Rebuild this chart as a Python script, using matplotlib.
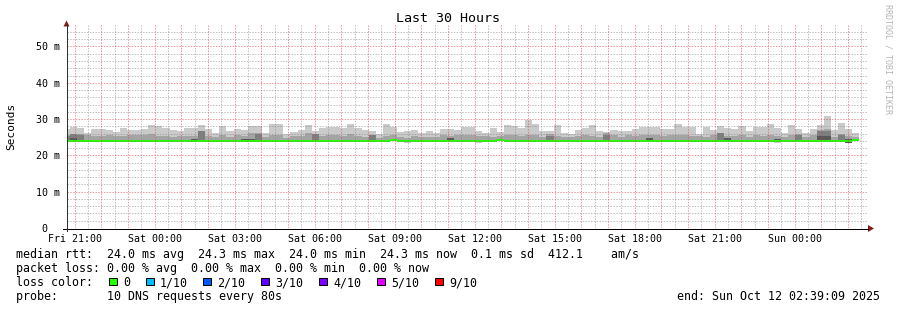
import numpy as np
import matplotlib
matplotlib.use("Agg")
import matplotlib.pyplot as plt
from matplotlib.patches import Rectangle, Polygon
from matplotlib.lines import Line2D

# ---------------- data ----------------
# time in hours since Fri 00:00
first_bin_start_h = 20 + 33.5 / 60     # first 16-minute consolidation bin
bin_minutes = 16
axis_start_h = 20 + 42.7 / 60
span_h = 30

median = [
    24.0, 24.0, 24.0, 24.0, 24.0, 24.0, 24.0, 24.0, 24.0, 24.0,
    24.0, 24.0, 24.0, 24.0, 24.0, 24.0, 24.0, 24.0, 24.0, 24.0,
    24.0, 24.0, 24.0, 24.0, 24.0, 24.0, 24.0, 24.0, 24.0, 24.0,
    24.0, 24.0, 24.0, 24.0, 24.0, 24.0, 24.0, 24.0, 24.0, 24.0,
    24.0, 24.0, 24.0, 24.0, 24.0, 24.0, 24.3, 24.0, 24.0, 24.0,
    24.0, 24.0, 24.0, 24.0, 24.0, 24.0, 24.0, 24.0, 24.0, 24.0,
    24.0, 24.3, 24.0, 24.0, 24.0, 24.0, 24.0, 24.0, 24.0, 24.0,
    24.0, 24.0, 24.0, 24.0, 24.0, 24.0, 24.0, 24.0, 24.0, 24.0,
    24.0, 24.0, 24.0, 24.0, 24.0, 24.0, 24.0, 24.0, 24.0, 24.0,
    24.0, 24.0, 24.0, 24.0, 24.0, 24.0, 24.0, 24.0, 24.0, 24.0,
    24.0, 24.0, 24.0, 24.0, 24.0, 24.0, 24.0, 24.0, 24.0, 24.0,
    24.0, 24.3,
]

ping_max = [
    27.3, 27.8, 27.5, 26.2, 27.3, 27.3, 27.1, 26.4, 27.5, 27.0,
    27.0, 27.3, 28.3, 28.1, 27.5, 27.1, 26.6, 27.5, 27.5, 28.4,
    27.3, 26.2, 28.1, 26.7, 27.3, 27.0, 28.0, 28.0, 26.2, 28.6,
    28.6, 26.0, 26.4, 27.0, 28.3, 26.8, 27.5, 27.8, 27.8, 27.5,
    28.6, 27.5, 27.0, 26.6, 26.0, 28.6, 27.9, 26.4, 26.6, 27.0,
    26.2, 26.7, 26.2, 27.3, 27.4, 27.1, 27.8, 27.8, 26.8, 26.2,
    27.5, 26.4, 28.4, 28.1, 27.5, 29.8, 28.6, 26.6, 26.6, 28.4,
    26.2, 26.0, 27.0, 27.5, 28.4, 26.6, 26.4, 27.0, 26.7, 26.6,
    27.3, 27.9, 27.9, 27.9, 27.3, 27.3, 28.6, 27.8, 27.8, 25.8,
    27.8, 27.0, 28.0, 27.5, 27.3, 28.0, 26.8, 27.8, 27.8, 28.6,
    27.5, 26.1, 28.4, 27.3, 26.2, 27.3, 28.4, 30.8, 27.0, 28.9,
    27.3, 26.2,
]

ping_9 = [
    25.7, 25.7, 25.9, 25.5, 25.3, 25.3, 25.5, 25.3, 25.3, 25.7,
    25.7, 25.7, 25.9, 25.3, 25.3, 25.0, 25.3, 25.3, 25.3, 26.8,
    25.3, 25.0, 25.5, 25.0, 25.5, 25.3, 26.2, 26.2, 25.0, 25.5,
    25.5, 24.9, 25.3, 25.3, 26.1, 26.0, 25.3, 25.7, 25.7, 25.3,
    25.9, 25.3, 25.0, 25.5, 24.9, 25.3, 25.5, 25.0, 24.8, 25.3,
    25.0, 25.2, 25.0, 25.5, 25.3, 25.5, 25.5, 25.7, 25.3, 25.3,
    25.0, 25.3, 25.5, 25.7, 25.3, 25.7, 25.5, 25.0, 25.9, 25.3,
    25.0, 25.0, 25.3, 25.5, 25.3, 25.0, 26.3, 25.7, 25.0, 25.5,
    25.3, 25.7, 25.5, 25.5, 25.3, 25.5, 25.7, 25.7, 25.3, 25.3,
    25.0, 25.7, 25.7, 25.3, 25.3, 25.7, 25.0, 25.5, 25.3, 25.7,
    25.3, 25.0, 25.7, 25.9, 25.0, 25.5, 27.0, 27.2, 25.0, 25.9,
    25.3, 25.0,
]

ping_8 = [
    25.3, 25.9, 25.7, 24.2, 24.2, 24.2, 24.2, 24.2, 24.2, 24.2,
    24.2, 24.2, 24.2, 24.2, 24.2, 24.2, 24.2, 24.2, 24.2, 26.6,
    24.2, 24.2, 24.2, 24.2, 24.2, 24.2, 24.2, 25.9, 24.2, 24.2,
    24.2, 24.2, 24.2, 24.2, 24.2, 25.9, 24.2, 24.2, 24.2, 24.2,
    24.2, 24.2, 24.2, 25.5, 24.2, 24.2, 24.2, 24.2, 24.2, 24.2,
    24.2, 24.2, 24.2, 24.2, 24.2, 24.2, 24.2, 24.2, 24.2, 24.2,
    24.2, 24.2, 24.2, 24.2, 24.2, 24.2, 24.2, 24.2, 25.3, 24.2,
    24.2, 24.2, 24.2, 24.2, 24.2, 24.2, 25.5, 24.2, 24.2, 24.2,
    24.2, 24.2, 24.2, 24.2, 24.2, 24.2, 24.2, 24.2, 24.2, 24.2,
    24.2, 24.2, 26.2, 24.2, 24.2, 24.2, 24.2, 24.2, 24.2, 24.2,
    24.2, 24.2, 24.2, 25.6, 24.2, 24.2, 26.6, 26.6, 24.2, 25.5,
    24.2, 24.2,
]

ping_7 = [
    24.1, 24.7, 24.1, 24.1, 24.1, 24.1, 24.1, 24.1, 24.1, 24.1,
    24.1, 24.1, 24.1, 24.1, 24.1, 24.1, 24.1, 24.1, 24.6, 24.1,
    24.1, 24.1, 24.1, 24.1, 24.1, 24.6, 24.6, 24.1, 24.1, 24.1,
    24.1, 24.1, 24.1, 24.1, 24.1, 24.1, 24.1, 24.1, 24.1, 24.1,
    24.1, 24.1, 24.1, 24.1, 24.1, 24.1, 24.1, 24.1, 24.1, 24.1,
    24.1, 24.1, 24.1, 24.1, 24.8, 24.1, 24.1, 24.1, 24.1, 24.1,
    24.1, 24.1, 24.1, 24.1, 24.1, 24.1, 24.1, 24.1, 24.1, 24.1,
    24.1, 24.1, 24.1, 24.1, 24.1, 24.1, 24.1, 24.1, 24.1, 24.1,
    24.1, 24.1, 24.7, 24.1, 24.1, 24.1, 24.1, 24.1, 24.1, 24.1,
    24.1, 24.1, 24.1, 24.7, 24.1, 24.1, 24.1, 24.1, 24.1, 24.1,
    24.6, 24.1, 24.1, 24.1, 24.1, 24.1, 25.4, 25.4, 24.1, 24.1,
    24.5, 24.1,
]

ping_low = [
    24.0, 24.0, 24.0, 24.0, 24.0, 24.0, 24.0, 24.0, 24.0, 24.0,
    24.0, 24.0, 24.0, 24.0, 24.0, 24.0, 24.0, 24.0, 24.0, 24.0,
    24.0, 24.0, 24.0, 24.0, 24.0, 24.0, 24.0, 24.0, 24.0, 24.0,
    24.0, 24.0, 24.0, 24.0, 24.0, 24.0, 24.0, 24.0, 24.0, 24.0,
    24.0, 24.0, 24.0, 24.0, 24.0, 24.0, 24.0, 24.0, 23.7, 24.0,
    24.0, 24.0, 24.0, 24.0, 24.0, 24.0, 24.0, 24.0, 23.7, 24.0,
    24.0, 24.0, 24.0, 24.0, 24.0, 24.0, 24.0, 24.0, 24.0, 24.0,
    24.0, 24.0, 24.0, 24.0, 24.0, 24.0, 24.0, 24.0, 24.0, 24.0,
    24.0, 24.0, 24.0, 24.0, 24.0, 24.0, 24.0, 24.0, 24.0, 24.0,
    24.0, 24.0, 24.0, 24.0, 24.0, 24.0, 24.0, 24.0, 24.0, 24.0,
    23.8, 24.0, 24.0, 24.0, 24.0, 24.0, 24.0, 24.0, 24.0, 24.0,
    23.5, 24.0,
]

ping_min = [
    24.0, 24.0, 24.0, 24.0, 24.0, 24.0, 24.0, 24.0, 24.0, 24.0,
    24.0, 24.0, 24.0, 24.0, 24.0, 24.0, 24.0, 24.0, 24.0, 24.0,
    24.0, 24.0, 24.0, 24.0, 24.0, 24.0, 24.0, 24.0, 24.0, 24.0,
    24.0, 24.0, 24.0, 24.0, 24.0, 24.0, 24.0, 24.0, 24.0, 24.0,
    24.0, 24.0, 24.0, 24.0, 24.0, 24.0, 24.0, 24.0, 23.4, 24.0,
    24.0, 24.0, 24.0, 24.0, 24.0, 24.0, 24.0, 24.0, 23.4, 24.0,
    24.0, 24.0, 24.0, 24.0, 24.0, 24.0, 24.0, 24.0, 24.0, 24.0,
    24.0, 24.0, 24.0, 24.0, 24.0, 24.0, 24.0, 24.0, 24.0, 24.0,
    24.0, 24.0, 24.0, 24.0, 24.0, 24.0, 24.0, 24.0, 24.0, 24.0,
    24.0, 24.0, 24.0, 24.0, 24.0, 24.0, 24.0, 24.0, 24.0, 24.0,
    23.5, 24.0, 24.0, 24.0, 24.0, 24.0, 24.0, 24.0, 24.0, 24.0,
    23.4, 24.0,
]

x_tick_hours = [21, 24, 27, 30, 33, 36, 39, 42, 45, 48]
x_tick_labels = ["Fri 21:00", "Sat 00:00", "Sat 03:00", "Sat 06:00", "Sat 09:00",
                 "Sat 12:00", "Sat 15:00", "Sat 18:00", "Sat 21:00", "Sun 00:00"]
y_ticks = [0, 10, 20, 30, 40, 50]
y_tick_labels = ["0  ", "10 m", "20 m", "30 m", "40 m", "50 m"]
y_max = 56

loss_labels = ["0", "1/10", "2/10", "3/10", "4/10", "5/10", "9/10"]
loss_colors = ["#26ff00", "#00b8ff", "#0059ff", "#5e00ff", "#7e00ff", "#dd00ff", "#ff0000"]

stat_line1 = ("median rtt:  24.0 ms avg  24.3 ms max  24.0 ms min  24.3 ms now"
              "  0.1 ms sd  412.1    am/s")
stat_line2 = "packet loss: 0.00 % avg  0.00 % max  0.00 % min  0.00 % now"
stat_line3 = "loss color:"
stat_line4 = "probe:       10 DNS requests every 80s"
end_text = "end: Sun Oct 12 02:39:09 2025"
title = "Last 30 Hours"

for arr in (median, ping_max, ping_9, ping_8, ping_7, ping_low, ping_min):
    assert len(arr) == 112

# ---------------- figure ----------------
W, H, DPI = 897, 310, 100
MONO = "DejaVu Sans Mono"
fig = plt.figure(figsize=(W / DPI, H / DPI), dpi=DPI)
fig.patch.set_facecolor("white")


def fx(x):
    return x / W


def fy(y):
    return 1 - y / H


PL, PR, PT, PB = 67, 867, 24.7, 228
ax = fig.add_axes([fx(PL), fy(PB), (PR - PL) / W, (PB - PT) / H])
ax.set_facecolor("white")
ax.set_xlim(axis_start_h, axis_start_h + span_h)
ax.set_ylim(0, y_max)
for s in ax.spines.values():
    s.set_visible(False)

n = len(median)
edges = first_bin_start_h + np.arange(n + 1) * bin_minutes / 60.0
med = np.array(median)
pmax = np.array(ping_max)
p9 = np.array(ping_9)
p8 = np.array(ping_8)
p7 = np.array(ping_7)
plow = np.array(ping_low)
pmin = np.array(ping_min)

# smoke layers (outer to inner)
layers = [(pmin, pmax, "#cacaca"),
          (plow, p9, "#a4a4a4"),
          (plow, p8, "#7e7e7e"),
          (plow, p7, "#585858")]
for lo, hi, c in layers:
    ax.stairs(hi, edges, baseline=lo, fill=True, color=c, linewidth=0,
              antialiased=False, zorder=1)

# median band (2 px tall), coloured by loss (0 loss -> green)
px_data = y_max / (PB - PT)
ax.stairs(med + px_data, edges, baseline=med - px_data, fill=True,
          color=loss_colors[0], linewidth=0, antialiased=False, zorder=2)

# grid (dotted, 1 px)
lw = 0.72
minor_h = [v for v in np.arange(2, y_max, 2) if v % 10 != 0]
major_h = [v for v in np.arange(10, y_max, 10)]
hours = np.arange(np.ceil(axis_start_h * 2) / 2, axis_start_h + span_h, 0.5)
minor_v = [h for h in hours if h % 1 != 0]
major_v = [h for h in hours if h % 1 == 0]
x0, x1 = axis_start_h, axis_start_h + span_h


def gridline(xs, ys, color, alpha):
    ln = Line2D(xs, ys, color=color, alpha=alpha, linewidth=lw,
                dashes=(1.4, 1.4), dash_capstyle="butt", snap=True,
                antialiased=True, zorder=3)
    ax.add_line(ln)


for v in minor_h:
    gridline([x0, x1], [v, v], "#808080", 0.5)
for h in minor_v:
    gridline([h, h], [0, y_max], "#808080", 0.5)
for v in major_h:
    gridline([x0, x1], [v, v], "#e04040", 0.55)
for h in major_v:
    gridline([h, h], [0, y_max], "#e04040", 0.55)

# ticks and labels
ax.set_xticks(x_tick_hours)
ax.set_xticklabels(x_tick_labels, fontfamily=MONO, fontsize=7.2)
ax.set_yticks(y_ticks)
ax.set_yticklabels(y_tick_labels, fontfamily=MONO, fontsize=7.2)
ax.tick_params(axis="x", length=0, pad=4.2)
ax.tick_params(axis="y", length=0, pad=5.0)

# axis lines with arrows (figure pixel coords)
fig.add_artist(Line2D([fx(63), fx(868)], [fy(228.5), fy(228.5)], color="#000000",
                      linewidth=0.72, antialiased=False))
fig.add_artist(Line2D([fx(66.5), fx(66.5)], [fy(231), fy(24)], color="#303030",
                      linewidth=0.72, antialiased=False))
arrow_c = "#7f1f1f"
fig.add_artist(Polygon([[fx(868), fy(225)], [fx(874), fy(228.5)], [fx(868), fy(232)]],
                       closed=True, facecolor=arrow_c, edgecolor=arrow_c, linewidth=0))
fig.add_artist(Polygon([[fx(63.5), fy(26.5)], [fx(66.5), fy(20.5)], [fx(69.5), fy(26.5)]],
                       closed=True, facecolor=arrow_c, edgecolor=arrow_c, linewidth=0))

# titles
fig.text(fx(448), fy(19), title, ha="center", va="center", fontfamily=MONO,
         fontsize=9.6, color="#000000")
fig.text(fx(11), fy(126), "Seconds", ha="center", va="center", rotation=90,
         fontfamily=MONO, fontsize=8.0, color="#000000")
fig.text(fx(888), fy(59), "RRDTOOL / TOBI OETIKER", ha="center", va="center",
         rotation=270, fontfamily=MONO, fontsize=6.0, color="#b4b4b4")

# legend / stats
fs = 8.37
fig.text(fx(16), fy(258.3), stat_line1, ha="left", va="baseline", fontfamily=MONO, fontsize=fs)
fig.text(fx(16), fy(272.3), stat_line2, ha="left", va="baseline", fontfamily=MONO, fontsize=fs)
fig.text(fx(16), fy(286.3), stat_line3, ha="left", va="baseline", fontfamily=MONO, fontsize=fs)
fig.text(fx(16), fy(300.0), stat_line4, ha="left", va="baseline", fontfamily=MONO, fontsize=fs)
fig.text(fx(880), fy(300.0), end_text, ha="right", va="baseline", fontfamily=MONO, fontsize=fs)

box_x = [109, 146, 203, 261, 319, 377, 435]
for bx, lab, col in zip(box_x, loss_labels, loss_colors):
    fig.add_artist(Rectangle((fx(bx), fy(285.3)), 7.5 / W, 7.5 / H, facecolor=col,
                             edgecolor="#000000", linewidth=0.72))
    fig.text(fx(bx + 14), fy(286.3), lab, ha="left", va="baseline",
             fontfamily=MONO, fontsize=fs)

fig.savefig("out.png", dpi=DPI, facecolor="white")
